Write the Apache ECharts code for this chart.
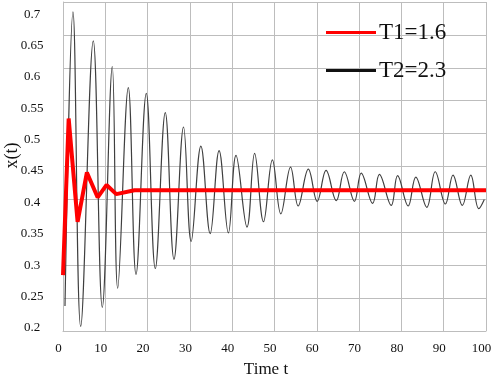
<!DOCTYPE html>
<html>
<head>
<meta charset="utf-8">
<script src="https://cdn.jsdelivr.net/npm/echarts@6/dist/echarts.min.js"></script>
<style>
html,body{margin:0;padding:0;background:#fff;}
#chart{width:491px;height:379px;}
</style>
</head>
<body>
<div id="chart"></div>
<script>
// ---- data ----
const seriesNames = ['T1=1.6', 'T2=2.3'];
const xTicks = [0, 10, 20, 30, 40, 50, 60, 70, 80, 90, 100];
const yTickLabels = ['0.2', '0.25', '0.3', '0.35', '0.4', '0.45', '0.5', '0.55', '0.6', '0.65', '0.7'];

// T1 = 1.6 (red), [time, x(t)]
const t1Time = [0, 1.34, 3.45, 5.65, 8.2, 10.3, 12.6, 16.9, 100];
const t1Value = [0.285, 0.523, 0.366, 0.441, 0.403, 0.422, 0.408, 0.414, 0.414];

// T2 = 2.3 (black), peaks and troughs
const t2Time = [0.47, 2.36, 4.18, 7.16, 9.29, 11.65, 12.93, 15.44, 17.26, 19.69, 21.82, 24.18,
  26.24, 28.5, 30.3, 32.6, 34.8, 36.9, 39.1, 40.9, 43.5, 45.3, 47.4, 49.5, 51.5, 53.8, 55.6,
  58.0, 60.1, 62.2, 64.6, 66.5, 68.9, 70.5, 73.2, 74.8, 77.6, 79.1, 81.6, 83.4, 86.0, 88.0,
  90.4, 92.2, 94.4, 96.4, 98.3, 99.6];
const t2Value = [0.238, 0.685, 0.207, 0.641, 0.236, 0.602, 0.265, 0.570, 0.286, 0.561, 0.295, 0.532,
  0.309, 0.510, 0.336, 0.481, 0.348, 0.474, 0.349, 0.467, 0.358, 0.470, 0.366, 0.460, 0.378, 0.449, 0.390,
  0.446, 0.397, 0.444, 0.398, 0.442, 0.397, 0.440, 0.394, 0.438, 0.391, 0.436, 0.390, 0.434, 0.388, 0.442,
  0.393, 0.437, 0.391, 0.437, 0.386, 0.400];

const font = 'Liberation Serif, Times New Roman, serif';
const gridColor = '#bdbdbd';

const chart = echarts.init(document.getElementById('chart'));
chart.setOption({
  animation: false,
  backgroundColor: '#fff',
  grid: { left: 63, right: 5, top: 2, bottom: 48, containLabel: false, outerBoundsMode: 'none' },
  legend: {
    data: seriesNames,
    orient: 'vertical',
    left: 326,
    top: 21,
    padding: 0,
    icon: 'rect',
    itemWidth: 50,
    itemHeight: 3,
    itemGap: 15,
    textStyle: { fontFamily: font, fontSize: 23, color: '#111', lineHeight: 23, padding: [0, 0, 0, -2] }
  },
  xAxis: {
    type: 'value',
    min: xTicks[0],
    max: xTicks[xTicks.length - 1],
    interval: xTicks[1] - xTicks[0],
    name: 'Time t',
    nameLocation: 'middle',
    nameGap: 30,
    nameTextStyle: { fontFamily: font, fontSize: 17, color: '#111', padding: [0, 17, 0, 0] },
    axisLine: { show: true, lineStyle: { color: gridColor, width: 1 } },
    axisTick: { show: false },
    axisLabel: { fontFamily: font, fontSize: 13, color: '#111', margin: 11, padding: [0, 9, 0, 0] },
    splitLine: { show: true, lineStyle: { color: gridColor, width: 1 } }
  },
  yAxis: [
    {
      type: 'value',
      min: parseFloat(yTickLabels[0]),
      max: parseFloat(yTickLabels[yTickLabels.length - 1]),
      interval: 0.05,
      name: 'x(t)',
      nameLocation: 'middle',
      nameGap: 42,
      nameRotate: 90,
      nameTextStyle: { fontFamily: font, fontSize: 18, color: '#111', padding: [0, 0, 0, 22] },
      axisLine: { show: true, lineStyle: { color: gridColor, width: 1 } },
      axisTick: { show: false },
      axisLabel: { show: false },
      splitLine: { show: true, lineStyle: { color: gridColor, width: 1 } }
    },
    {
      // label-only axis: reproduces the reference's tick-label placement
      type: 'value',
      position: 'left',
      min: 0.19522,
      max: 0.7193,
      axisLine: { show: false },
      axisTick: { show: false },
      splitLine: { show: false },
      axisLabel: {
        show: true,
        customValues: yTickLabels.map(Number),
        formatter: function (v) { return String(Math.round(v * 100) / 100); },
        align: 'center',
        margin: 31,
        fontFamily: font, fontSize: 13, color: '#111'
      }
    }
  ],
  series: [
    {
      name: seriesNames[0],
      type: 'line',
      yAxisIndex: 0,
      data: t1Time.map((t, i) => [t, t1Value[i]]),
      showSymbol: false,
      symbol: 'none',
      lineStyle: { color: '#ff0000', width: 4 },
      itemStyle: { color: '#ff0000' },
      z: 3
    },
    {
      name: seriesNames[1],
      type: 'line',
      yAxisIndex: 0,
      data: t2Time.map((t, i) => [t, t2Value[i]]),
      showSymbol: false,
      symbol: 'none',
      smooth: 0.4,
      lineStyle: { color: '#3f3f3f', width: 1.2 },
      itemStyle: { color: '#111' },
      z: 2
    }
  ]
});
</script>
</body>
</html>
